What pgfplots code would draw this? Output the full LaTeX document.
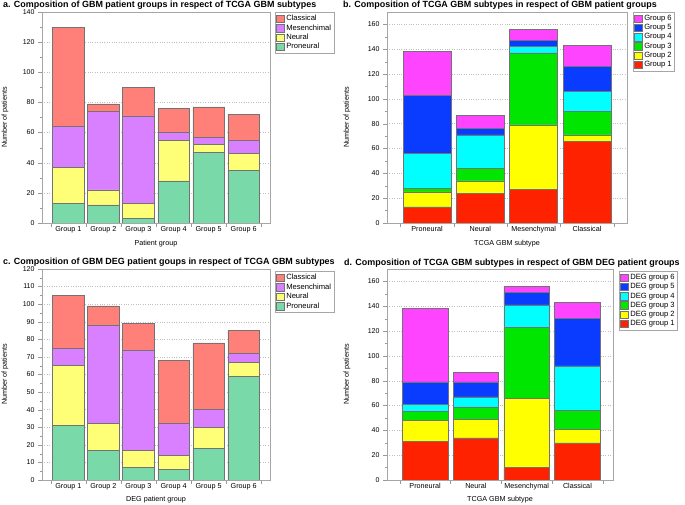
\documentclass[border=0pt]{standalone}
\usepackage{fontspec}
\setmainfont{Liberation Sans}
\usepackage{pgfplots}
\pgfplotsset{compat=1.18}
\usepackage{pgfplotstable}

\definecolor{cCla}{HTML}{FF7F79}
\definecolor{cMes}{HTML}{D880FF}
\definecolor{cNeu}{HTML}{FFFF77}
\definecolor{cPro}{HTML}{7AD9A9}
\definecolor{gA}{HTML}{FF2200}
\definecolor{gB}{HTML}{FFFF00}
\definecolor{gC}{HTML}{00E600}
\definecolor{gD}{HTML}{00FFFF}
\definecolor{gE}{HTML}{0A3CFF}
\definecolor{gF}{HTML}{FF44FF}

% a: patient groups x subtype
\pgfplotstableread{
x pro neu mes cla
0 13 24 27 66
1 12 10 52 5
2 3 10 58 19
3 28 27 5 16
4 47 5 5 20
5 35 11 9 17
}\tabA
% b: subtype x patient groups
\pgfplotstableread{
x g1 g2 g3 g4 g5 g6
0 13 12 3 28 47 35
1 24 10 10 27 5 11
2 27 52 58 5 5 9
3 66 5 19 16 20 17
}\tabB
% c: DEG groups x subtype
\pgfplotstableread{
x pro neu mes cla
0 31 34 10 30
1 17 15 56 11
2 7 10 57 15
3 6 8 18 36
4 18 12 10 38
5 59 8 5 13
}\tabC
% d: subtype x DEG groups
\pgfplotstableread{
x g1 g2 g3 g4 g5 g6
0 31 17 7 6 18 59
1 34 15 10 8 12 8
2 10 56 57 18 10 5
3 30 11 15 36 38 13
}\tabD

\pgfplotsset{
  panel/.style={
    scale only axis, anchor=south west,
    ybar stacked, bar width=0.9, ymin=0,
    /pgf/number format/assume math mode=true,
    axis line style={draw=gray!70},
    tick style={draw=gray!80}, tick align=outside,
    major tick length=4pt, minor tick length=2pt,
    xtick pos=lower, ytick pos=left,
    minor y tick num=1,
    xticklabels={},
    extra x tick style={major tick length=0pt},
    ymajorgrids, grid style={dotted, gray!50},
    tick label style={font=\fontsize{7}{8}\selectfont},
    xticklabel style={font=\fontsize{7.2}{8}\selectfont},
    label style={font=\fontsize{7.2}{8}\selectfont},
    every axis plot/.append style={draw=black!55, line width=0.5pt},
    reverse legend,
    legend style={anchor=north west, draw=gray!70, line width=0.5pt,
      font=\fontsize{7.6}{8.5}\selectfont, inner sep=1pt, row sep=-1.6pt,
      legend cell align=left},
    legend image code/.code={\draw[#1] (0pt,-3.7pt) rectangle (7.5pt,3.7pt);},
  },
}

\begin{document}
\begin{tikzpicture}
\path[use as bounding box] (0,0) rectangle (685pt,505pt);

% ---- a ----
\begin{axis}[panel, at={(42pt,282pt)}, width=228pt, height=211pt,
  xmin=-0.75, xmax=5.75, ymax=140, ytick={0,20,...,140},
  xtick={-0.5,0.5,...,5.5},
  extra x ticks={0,...,5},
  extra x tick labels={Group 1,Group 2,Group 3,Group 4,Group 5,Group 6},
  xlabel={Patient group}, ylabel={Number of patients},
  xlabel style={at={(axis description cs:0.5,-0.1)}, anchor=center},
  ylabel style={at={(axis description cs:-0.162,0.5)}, anchor=center},
  legend style={at={(axis description cs:1.022,1)}}]
\addplot[fill=cPro] table[x=x,y=pro]{\tabA};
\addplot[fill=cNeu] table[x=x,y=neu]{\tabA};
\addplot[fill=cMes] table[x=x,y=mes]{\tabA};
\addplot[fill=cCla] table[x=x,y=cla]{\tabA};
\legend{Proneural,Neural,Mesenchimal,Classical}
\end{axis}

% ---- b ----
\begin{axis}[panel, at={(387pt,282pt)}, width=240pt, height=211pt,
  xmin=-0.75, xmax=3.75, ymax=170, ytick={0,20,...,160},
  xtick={-0.5,0.5,...,3.5},
  extra x ticks={0,...,3},
  extra x tick labels={Proneural,Neural,Mesenchymal,Classical},
  xlabel={TCGA GBM subtype}, ylabel={Number of patients},
  xlabel style={at={(axis description cs:0.5,-0.1)}, anchor=center},
  ylabel style={at={(axis description cs:-0.167,0.5)}, anchor=center},
  legend style={at={(axis description cs:1.025,1)}}]
\addplot[fill=gA] table[x=x,y=g1]{\tabB};
\addplot[fill=gB] table[x=x,y=g2]{\tabB};
\addplot[fill=gC] table[x=x,y=g3]{\tabB};
\addplot[fill=gD] table[x=x,y=g4]{\tabB};
\addplot[fill=gE] table[x=x,y=g5]{\tabB};
\addplot[fill=gF] table[x=x,y=g6]{\tabB};
\legend{Group 1,Group 2,Group 3,Group 4,Group 5,Group 6}
\end{axis}

% ---- c ----
\begin{axis}[panel, at={(42pt,25pt)}, width=228pt, height=211pt,
  xmin=-0.75, xmax=5.75, ymax=120, ytick={0,10,...,120},
  xtick={-0.5,0.5,...,5.5},
  extra x ticks={0,...,5},
  extra x tick labels={Group 1,Group 2,Group 3,Group 4,Group 5,Group 6},
  xlabel={DEG patient group}, ylabel={Number of patients},
  xlabel style={at={(axis description cs:0.5,-0.095)}, anchor=center},
  ylabel style={at={(axis description cs:-0.162,0.5)}, anchor=center},
  legend style={at={(axis description cs:1.022,0.99)}}]
\addplot[fill=cPro] table[x=x,y=pro]{\tabC};
\addplot[fill=cNeu] table[x=x,y=neu]{\tabC};
\addplot[fill=cMes] table[x=x,y=mes]{\tabC};
\addplot[fill=cCla] table[x=x,y=cla]{\tabC};
\legend{Proneural,Neural,Mesenchimal,Classical}
\end{axis}

% ---- d ----
\begin{axis}[panel, at={(387pt,25pt)}, width=226pt, height=211pt,
  xmin=-0.75, xmax=3.7, ymax=170, ytick={0,20,...,160},
  xtick={-0.5,0.5,...,3.5},
  extra x ticks={0,...,3},
  extra x tick labels={Proneural,Neural,Mesenchymal,Classical},
  xlabel={TCGA GBM subtype}, ylabel={Number of patients},
  xlabel style={at={(axis description cs:0.5,-0.095)}, anchor=center},
  ylabel style={at={(axis description cs:-0.177,0.5)}, anchor=center},
  legend style={at={(axis description cs:1.027,0.99)}}]
\addplot[fill=gA] table[x=x,y=g1]{\tabD};
\addplot[fill=gB] table[x=x,y=g2]{\tabD};
\addplot[fill=gC] table[x=x,y=g3]{\tabD};
\addplot[fill=gD] table[x=x,y=g4]{\tabD};
\addplot[fill=gE] table[x=x,y=g5]{\tabD};
\addplot[fill=gF] table[x=x,y=g6]{\tabD};
\legend{DEG group 1,DEG group 2,DEG group 3,DEG group 4,DEG group 5,DEG group 6}
\end{axis}

% panel titles
\begin{scope}[every node/.style={anchor=west, inner sep=0pt,
    font=\bfseries\fontsize{8.95}{11}\selectfont}]
\node at (3pt,500pt) {a. Composition of GBM patient groups in respect of TCGA GBM subtypes};
\node at (343pt,500pt) {b. Composition of TCGA GBM subtypes in respect of GBM patient groups};
\node at (3pt,243pt) {c. Composition of GBM DEG patient goups in respect of TCGA GBM subtypes};
\node at (344pt,242pt) {d. Composition of TCGA GBM subtypes in respect of GBM DEG patient groups};
\end{scope}
\end{tikzpicture}
\end{document}
